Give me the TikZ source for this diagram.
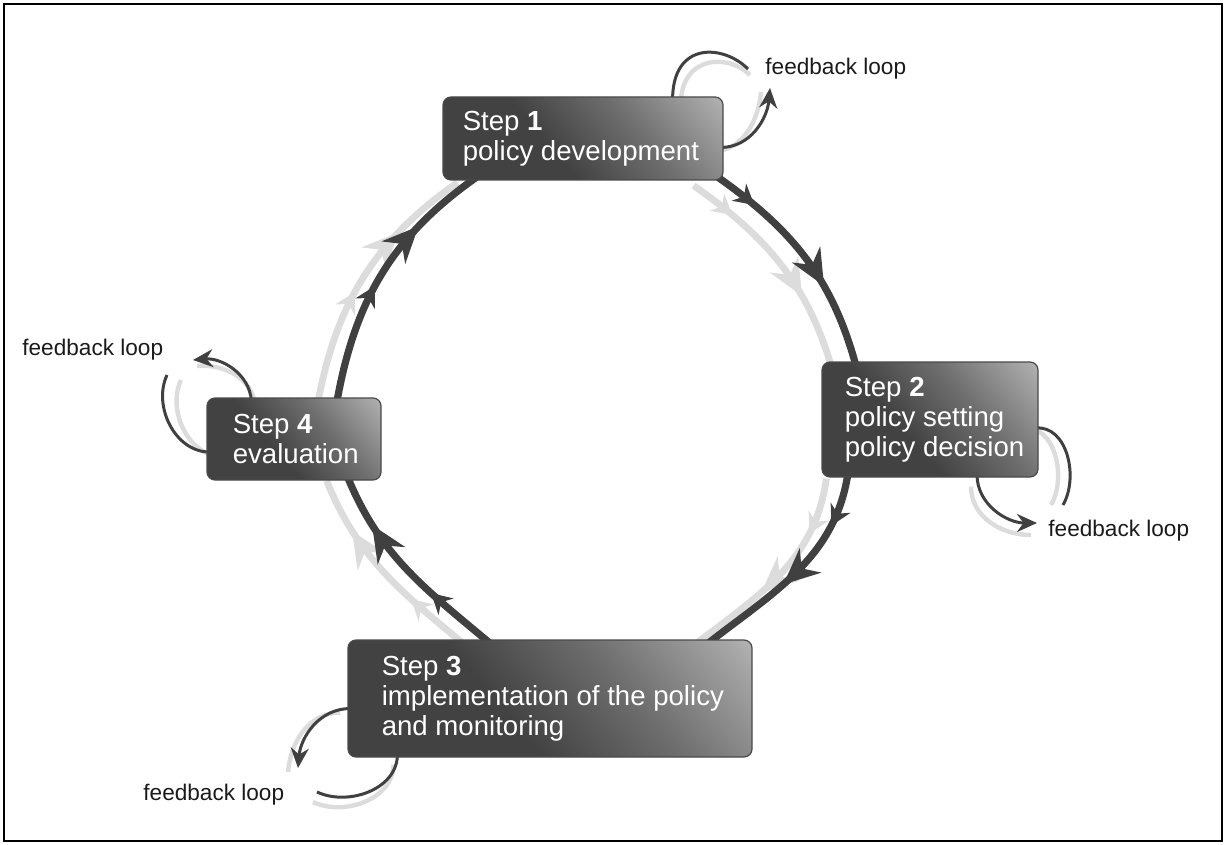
\documentclass[tikz,border=0pt]{standalone}
\usepackage{fontspec}
\setmainfont{Liberation Sans}
\usetikzlibrary{arrows.meta,decorations.markings}
\definecolor{bdark}{HTML}{424242}
\definecolor{bmid}{HTML}{6E6E6E}
\definecolor{bmid2}{HTML}{A8A8A8}
\definecolor{blight}{HTML}{EEEEEE}
\definecolor{boxline}{HTML}{4A4A4A}
\definecolor{arccol}{HTML}{404040}
\definecolor{shadowcol}{HTML}{DCDCDC}
\definecolor{fbcol}{HTML}{1A1A1A}
\pgfdeclarehorizontalshading{boxshade}{100bp}{color(0bp)=(bdark); color(42bp)=(bdark); color(62bp)=(bmid); color(82bp)=(bmid2); color(100bp)=(blight)}
\pgfdeclarelayer{bg}
\pgfsetlayers{bg,main}
\begin{document}
\begin{tikzpicture}[x=0.5pt,y=0.5pt,
  box/.style={rectangle, rounded corners=4pt, draw=boxline, line width=0.6pt, shading=boxshade, shading angle=40, inner sep=0pt},
  boxtext/.style={text=white, align=left, font=\fontsize{13.8}{15}\selectfont, inner sep=0pt, anchor=west},
  fbtext/.style={text=fbcol, font=\fontsize{11.3}{13}\selectfont, inner sep=0pt, anchor=west},
  cycline/.style={draw=arccol, line width=3.6pt},
  cycshadow/.style={draw=shadowcol, line width=3.4pt},
  loopline/.style={draw=arccol, line width=1.5pt},
  loopshadow/.style={draw=shadowcol, line width=2.2pt},
  loopend/.style={-{Stealth[length=10pt,width=9pt]}},
  marks/.style n args={3}{postaction={decorate}, decoration={markings,
     mark=at position #1 with {\arrow[color=#3]{Stealth[length=10pt,width=11pt]}},
     mark=at position #2 with {\arrow[color=#3]{Stealth[length=18pt,width=16pt]}}}}
]
\useasboundingbox (0,0) rectangle (1226,-845);
\draw[line width=1pt] (4,-4) rectangle (1222,-841);

% boxes
\node[box, minimum width=140pt, minimum height=41.5pt] (b1) at (583,-138.5) {};
\node[box, minimum width=108pt, minimum height=57.5pt] (b2) at (930,-419.5) {};
\node[box, minimum width=202pt, minimum height=58.5pt] (b3) at (550,-698.5) {};
\node[box, minimum width=87pt, minimum height=41pt] (b4) at (294,-439) {};

\node[boxtext] (t1) at ([xshift=10pt]b1.west) {Step \textbf{1}\\policy development};
\node[boxtext] (t2) at ([xshift=11.5pt]b2.west) {Step \textbf{2}\\policy setting\\policy decision};
\node[boxtext] (t3) at ([xshift=17pt]b3.west) {Step \textbf{3}\\implementation of the policy\\and monitoring};
\node[boxtext] (t4) at ([xshift=13pt]b4.west) {Step \textbf{4}\\evaluation};

% feedback labels
\node[fbtext] (f1) at (765,-69) {feedback loop};
\node[fbtext] (f2) at (1048,-531) {feedback loop};
\node[fbtext] (f3) at (143,-795) {feedback loop};
\node[fbtext] (f4) at (22,-350) {feedback loop};

% connector end points
\coordinate (pA1) at ([shift={(-8,5)}]b1.south east);
\coordinate (pA2) at ([shift={(35,-6)}]b2.north west);
\coordinate (pB1) at ([shift={(27,7)}]b2.south west);
\coordinate (pB2) at ([shift={(-46,-5)}]b3.north east);
\coordinate (pC1) at ([shift={(144,-5)}]b3.north west);
\coordinate (pC2) at ([shift={(-35,6)}]b4.south east);
\coordinate (pD1) at ([shift={(-45,-6)}]b4.north east);
\coordinate (pD2) at ([shift={(35,4)}]b1.south west);

\coordinate (L1s) at ([shift={(-3,-9)}]b1.east);
\coordinate (L1e) at (770,-88);
\coordinate (L1b) at ([shift={(-51,-3)}]b1.north east);
\coordinate (L1a) at (748,-69);
\coordinate (L2b) at ([shift={(-3,-8.5)}]b2.east);
\coordinate (L2a) at (1063,-505);
\coordinate (L2s) at ([shift={(47,3)}]b2.south);
\coordinate (L2e) at (1037,-523);
\coordinate (L3s) at ([shift={(3,-10)}]b3.west);
\coordinate (L3e) at (298,-768);
\coordinate (L3b) at ([shift={(50,3)}]b3.south west);
\coordinate (L3a) at (317,-792);
\coordinate (L4s) at ([shift={(45,-3)}]b4.north west);
\coordinate (L4e) at (193,-360);
\coordinate (L4b) at ([shift={(3,-13)}]b4.west);
\coordinate (L4a) at (167,-375);

\begin{pgfonlayer}{bg}
% shadows of the cycle
\draw[cycshadow, marks={0.2}{0.64}{shadowcol}] ([shift={(-22,-10)}]pA1) to[out=-35,in=105] ([shift={(-22,-10)}]pA2);
\draw[cycshadow, marks={0.25}{0.58}{shadowcol}] ([shift={(-22,-8)}]pB1) to[out=-98,in=38] ([shift={(-22,-8)}]pB2);
\draw[cycshadow, marks={0.35}{0.75}{shadowcol}] ([shift={(-20,-6)}]pC1) to[out=140,in=-68] ([shift={(-20,-6)}]pC2);
\draw[cycshadow, marks={0.45}{0.72}{shadowcol}] ([shift={(-20,-6)}]pD1) to[out=80,in=-145] ([shift={(-20,-6)}]pD2);
% shadows of the loops
\draw[loopshadow] ([shift={(-9,-4)}]L1s) to[out=0,in=-95] ([shift={(-9,-4)}]L1e);
\draw[loopshadow] ([shift={(8,-6)}]L1b) .. controls +(0,50) and +(-22,22) .. ([shift={(2,-6)}]L1a);
\draw[loopshadow] ([shift={(-12,0)}]L2b) to[out=5,in=60] ([shift={(-12,0)}]L2a);
\draw[loopshadow] ([shift={(-6,-12)}]L2s) to[out=-90,in=180] ([shift={(-6,-12)}]L2e);
\draw[loopshadow] ([shift={(-10,-4)}]L3s) to[out=180,in=85] ([shift={(-10,-4)}]L3e);
\draw[loopshadow] ([shift={(-4,-10)}]L3b) to[out=-90,in=-25] ([shift={(-4,-10)}]L3a);
\draw[loopshadow] ([shift={(4,-6)}]L4s) to[out=95,in=5] ([shift={(4,-6)}]L4e);
\draw[loopshadow] ([shift={(14,-5)}]L4b) to[out=180,in=-115] ([shift={(14,-5)}]L4a);
% cycle
\draw[cycline, marks={0.2}{0.64}{arccol}] (pA1) to[out=-35,in=105] (pA2);
\draw[cycline, marks={0.25}{0.58}{arccol}] (pB1) to[out=-98,in=38] (pB2);
\draw[cycline, marks={0.35}{0.75}{arccol}] (pC1) to[out=140,in=-68] (pC2);
\draw[cycline, marks={0.45}{0.72}{arccol}] (pD1) to[out=80,in=-145] (pD2);
% feedback loops
\draw[loopline, loopend] (L1s) to[out=0,in=-95] (L1e);
\draw[loopline] (L1b) .. controls +(0,58) and +(-25,25) .. (L1a);
\draw[loopline] (L2b) to[out=5,in=60] (L2a);
\draw[loopline, loopend] (L2s) to[out=-90,in=180] (L2e);
\draw[loopline, loopend] (L3s) to[out=180,in=85] (L3e);
\draw[loopline] (L3b) to[out=-90,in=-25] (L3a);
\draw[loopline, loopend] (L4s) to[out=95,in=5] (L4e);
\draw[loopline] (L4b) to[out=180,in=-115] (L4a);
\end{pgfonlayer}
\end{tikzpicture}
\end{document}
